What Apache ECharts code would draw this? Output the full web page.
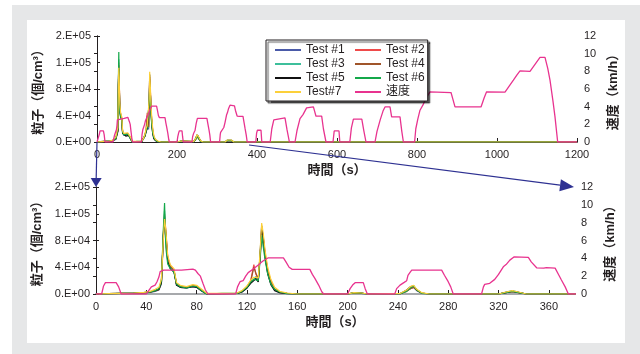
<!DOCTYPE html>
<html>
<head>
<meta charset="utf-8">
<script src="https://cdn.jsdelivr.net/npm/echarts@6/dist/echarts.min.js"></script>
<style>
body { margin: 0; background: #fff; }
#frame { position: absolute; left: 12px; top: 5px; width: 628px; height: 349px; background: #e6e7e8; }
#panel { position: absolute; left: 27px; top: 20px; width: 598px; height: 323px; background: #fff; }
#main { position: absolute; left: 0; top: 0; width: 640px; height: 354px; }
</style>
</head>
<body>
<div id="frame"></div>
<div id="panel"></div>
<div id="main"></div>
<script>
// time (s) shared by the particle series
var times = [0, 10, 20, 30, 38, 43, 47, 50, 52, 53.5,
	54.5, 55.5, 57, 59, 62, 64, 67, 72, 77, 80,
	84, 88, 100, 112, 116, 120, 123, 125.5, 127, 129,
	130.5, 131.7, 133, 134.5, 136.5, 139, 142, 146, 152, 160,
	200, 205, 211, 216, 242, 247, 250, 252.5, 255, 259,
	265, 320, 326, 331, 336, 342, 380, 542, 545, 548,
	897, 900, 903, 935, 938, 941, 965, 968, 971, 1100,
	1103, 1106, 1140, 1143, 1146, 1200];

// particle counts, x1000 個/cm3
var test1 = [0, 0.3, 0.8, 1, 1.5, 2.5, 4, 6, 15, 80,
	105, 85, 50, 40, 35, 14, 10, 9, 11, 10,
	5, 0, 0.5, 1, 3, 9, 17, 21, 25, 19,
	55, 92, 80, 55, 32, 16, 6, 2, 0.5, 0,
	0, 1.5, 1, 0, 0.5, 5, 8, 10, 5, 1,
	0, 0, 2.5, 4.5, 2, 0, 0, 0, 0, 0,
	0, 0, 0, 0, 0, 0, 0, 0, 0, 0,
	2.5, 0, 0, 0, 0, 0];
var test2 = [0, 0.5, 1, 1.2, 2, 3, 5, 7, 18, 90,
	120, 95, 55, 42, 36, 16, 12, 10, 13, 12,
	6, 0.5, 0.5, 1, 4, 11, 20, 44, 30, 23,
	58, 98, 85, 60, 36, 20, 8, 3, 1, 0,
	0, 2, 1.5, 0, 0.5, 4, 8, 10, 6, 1.5,
	0, 0, 2, 3.5, 2, 0, 0, 0, 0, 0,
	0, 0, 0, 0, 3, 0, 0, 0, 0, 0,
	0, 0, 0, 0, 0, 0];
var test3 = [0, 0.4, 0.9, 1.2, 1.8, 2.8, 4.5, 7, 16, 85,
	125, 88, 52, 41, 34, 15, 11, 9.5, 12, 11,
	5, 0, 0.5, 1, 3.5, 10, 18, 22, 26, 21,
	50, 86, 78, 56, 33, 17, 7, 2.5, 0.5, 0,
	0, 1.5, 1, 0, 0.5, 5, 10, 11, 6, 1,
	0, 0, 3, 5, 2.5, 0, 0, 0, 0, 0,
	0, 0, 0, 0, 0, 0, 0, 0, 0, 0,
	0, 0, 0, 0, 0, 0];
var test4 = [0, 0.3, 0.7, 1, 1.6, 2.6, 4.5, 6.5, 17, 88,
	116, 92, 54, 42, 35, 15, 11, 10, 12.5, 11.5,
	5.5, 0.3, 0.5, 1, 3.5, 10, 19, 40, 32, 22,
	56, 95, 84, 58, 35, 18, 7, 2.5, 1, 0,
	0, 1.8, 1.2, 0, 0.5, 4.5, 8.5, 10, 5.5, 1,
	0, 0, 2.5, 4, 2, 0, 0, 0, 0, 0,
	0, 2, 0, 0, 0, 0, 0, 0, 0, 0,
	0, 0, 0, 0, 0, 0];
var test5 = [0, 0.5, 1, 1.3, 2, 3, 5, 7, 17, 85,
	110, 90, 48, 38, 33, 13, 10, 9, 11, 10,
	4.5, 0, 0.5, 1, 3, 9, 16, 20, 23, 18,
	62, 102, 82, 56, 30, 14, 5, 2, 0.5, 0,
	0, 1.5, 1, 0, 0.5, 6, 11, 12, 6, 1.5,
	0, 0, 2, 4, 2.5, 0, 0, 0, 0, 0,
	0, 0, 0, 0, 0, 0, 0, 0, 0, 0,
	0, 0, 0, 0, 0, 0];
var test6 = [0, 0.5, 1, 1.5, 2, 3, 5, 8, 20, 95,
	136, 70, 45, 38, 33, 15, 11, 9, 12, 11,
	5, 0, 1, 1, 4, 10, 18, 22, 24, 20,
	60, 88, 70, 50, 30, 15, 7, 3, 0.5, 0,
	0, 2, 1.5, 0, 0.5, 4, 9, 12, 6, 1,
	0, 0, 2, 4, 2, 0, 0, 0, 3, 0,
	0, 0, 0, 0, 0, 0, 0, 0, 0, 0,
	0, 0, 0, 2.5, 0, 0];
var test7 = [0, 0.5, 1, 1.5, 2.5, 4, 7, 10, 22, 80,
	112, 96, 58, 44, 38, 17, 13, 11, 14, 13,
	7, 1, 1, 1.5, 5, 12, 21, 25, 27, 24,
	65, 106, 90, 64, 40, 22, 10, 4, 1.5, 0,
	0, 2, 1.5, 0, 1, 6, 11, 13, 7, 2,
	0, 0, 3, 5, 3, 0, 0, 0, 0, 0,
	0, 0, 0, 0, 0, 0, 0, 3, 0, 0,
	0, 0, 0, 0, 0, 0];

// speed [time s, km/h]
var speed = [[0, 0], [4.5, 0], [6, 0.9], [7.5, 1.27], [16, 1.27], [18, 0.8], [20, 0],
	[40, 0], [42, 0.4], [44, 0.8], [47, 1.0], [48.5, 1.38], [50, 1.9], [51, 2.5], [53.8, 2.68], [68, 2.68], [69, 2.8], [77, 2.8], [79, 2.68], [81, 2.3], [83, 2.0], [85, 1.2], [87, 0.45], [89, 0],
	[111, 0], [112.5, 0.8], [114.5, 1.38], [117, 1.5], [119, 2.0], [121, 2.4], [125, 2.8], [129, 3.24], [131, 3.5], [133, 3.73], [135, 3.9], [137, 4.06], [149, 4.06], [151, 3.6], [153.5, 3.0], [156, 2.76], [170, 2.76], [172, 2.2], [174, 1.75], [177, 1.0], [179.5, 0.25], [181, 0],
	[200, 0], [202, 0.6], [204, 1.0], [206, 1.27], [212.5, 1.27], [214, 0.6], [215.7, 0],
	[237.5, 0], [239, 0.6], [241.7, 1.0], [245, 1.3], [247, 1.49], [248, 2.1], [249.5, 2.4], [251, 2.68], [274.8, 2.68], [277, 2.1], [280, 1.38], [282, 0.8], [284, 0],
	[306.5, 0], [308, 0.8], [309, 1.08], [313, 1.2], [317, 1.64], [320, 2.2], [323.8, 3.05], [326, 3.3], [329, 3.8], [332.5, 4.17], [343.7, 4.1], [346, 3.6], [350.3, 2.94], [356, 2.9], [358, 2.95], [365, 2.9], [368, 2.1], [370, 1.57], [373, 0.8], [375.5, 0],
	[397, 0], [399, 1.0], [401, 1.33], [410, 1.33], [412, 0],
	[433, 0], [437, 1.5], [442, 2.5], [445, 2.72], [470, 2.72], [475, 1.4], [481, 0],
	[495, 0], [500, 1.3], [507.5, 2.65], [515, 3.1], [524, 3.86], [528, 3.97], [541, 3.97], [547.5, 2.92], [561.7, 2.92], [566, 1.5], [572.5, 0],
	[590, 0], [593, 1.25], [605, 1.25], [607, 0],
	[632, 0], [636, 1.6], [641, 2.58], [662, 2.58], [667, 1.3], [672.5, 0],
	[695, 0], [700, 1.2], [708, 2.5], [715, 3.5], [720, 3.97], [732.5, 3.97], [736.6, 2.84], [757.5, 2.84], [762, 1.2], [766, 0],
	[794, 0], [797, 1.5], [802, 2.6], [807.5, 3.6], [815, 4.2], [822, 4.9], [832.5, 5.68], [885, 5.6], [890, 4.8], [895, 3.97], [960, 3.97], [968, 5.0], [974, 5.68], [1020, 5.65], [1030, 6.3], [1041, 7.0], [1050, 7.6], [1057.5, 8.06], [1082.5, 8.0], [1095, 8.8], [1107.5, 9.58], [1120, 9.58], [1127, 8.3], [1132.5, 7.0], [1140, 4.6], [1145, 2.84], [1151.7, 0], [1200, 0]];

var testNames = ['Test #1', 'Test #2', 'Test #3', 'Test #4', 'Test #5', 'Test #6', 'Test#7'];
var speedName = '速度';
var leftTicks = ['0.E+00', '4.E+04', '8.E+04', '1.E+05', '2.E+05'];

var UNIT = 1000;
var FONT = '"Liberation Sans", Arial, "Noto Sans CJK JP", sans-serif';
var INK = '#231f20';
var ARROW = '#2e3192';
var testColors = ['#4a5aa8', '#ef4a4a', '#3dbf9b', '#a0552a', '#111111', '#14a84a', '#fcd03a'];
var speedColor = '#e8338f';
var tests = [test1, test2, test3, test4, test5, test6, test7];

var myChart = echarts.init(document.getElementById('main'));

function pairs(vals) {
	return times.map(function(t, i) { return [t, vals[i] * UNIT]; });
}

function xAxis(grid, max, interval) {
	return {
		type: 'value', gridIndex: grid, min: 0, max: max, interval: interval,
		name: '時間（s）', nameLocation: 'middle', nameGap: 22,
		nameTextStyle: { fontFamily: FONT, fontSize: 13, fontWeight: 'bold', color: INK },
		axisLine: { lineStyle: { color: INK, width: 1 } },
		axisTick: { inside: true, length: 4, lineStyle: { color: INK } },
		axisLabel: {
			margin: 7, fontFamily: FONT, fontSize: 11, color: INK, showMaxLabel: grid == 0,
			formatter: function(v) { return String(v); }
		},
		splitLine: { show: false }
	};
}

function topLine(grid, max, color, width) {
	return {
		type: 'value', gridIndex: grid, position: 'top', min: 0, max: max,
		axisLine: { show: true, lineStyle: { color: color, width: width } },
		axisTick: { show: false }, axisLabel: { show: false }, splitLine: { show: false }
	};
}

function leftAxis(grid) {
	return {
		type: 'value', gridIndex: grid, position: 'left', min: 0, max: 160000, interval: 40000,
		name: '粒子（個/cm³）', nameLocation: 'middle', nameGap: 50, nameRotate: 90,
		nameTextStyle: { fontFamily: FONT, fontSize: 13, fontWeight: 'bold', color: INK },
		axisLine: { show: true, lineStyle: { color: INK } },
		axisTick: { show: true, inside: true, length: 3, lineStyle: { color: INK } },
		axisLabel: {
			margin: 6, fontFamily: FONT, fontSize: 11, color: INK,
			formatter: function(v) { return leftTicks[Math.round(v / 40000)]; }
		},
		splitLine: { show: false }
	};
}

function rightAxis(grid) {
	return {
		type: 'value', gridIndex: grid, position: 'right', min: 0, max: 12, interval: 2,
		name: '速度（km/h）', nameLocation: 'middle', nameGap: 28, nameRotate: 90,
		nameTextStyle: { fontFamily: FONT, fontSize: 13, fontWeight: 'bold', color: INK },
		axisLine: { show: true, lineStyle: { color: INK } },
		axisTick: { show: true, inside: true, length: 3, lineStyle: { color: INK } },
		axisLabel: { margin: 7, fontFamily: FONT, fontSize: 11, color: INK },
		splitLine: { show: false }
	};
}

var series = [];
[0, 1].forEach(function(g) {
	tests.forEach(function(vals, i) {
		series.push({
			name: testNames[i], type: 'line', xAxisIndex: g, yAxisIndex: g * 2,
			data: pairs(vals), symbol: 'none', z: 2,
			lineStyle: { color: testColors[i], width: 1.2 },
			itemStyle: { color: testColors[i] }
		});
	});
	series.push({
		name: speedName, type: 'line', xAxisIndex: g, yAxisIndex: g * 2 + 1,
		data: speed, symbol: 'none', z: 3,
		lineStyle: { color: speedColor, width: 1.3 },
		itemStyle: { color: speedColor }
	});
});

var leftCol = ['Test #1', 'Test #3', 'Test #5', 'Test#7'];

var option = {
	animation: false,
	backgroundColor: 'transparent',
	grid: [
		{ left: 97, top: 36, width: 480, height: 106, outerBoundsMode: 'none' },
		{ left: 96, top: 187, width: 478, height: 107, outerBoundsMode: 'none' }
	],
	legend: {
		left: 266, top: 40, width: 162,
		padding: [4, 3, 3, 9], itemWidth: 26, itemHeight: 2, itemGap: 2,
		icon: 'rect',
		backgroundColor: '#fff', borderColor: INK, borderWidth: 1,
		shadowColor: 'rgba(0,0,0,0.65)', shadowBlur: 1, shadowOffsetX: 2, shadowOffsetY: 2,
		textStyle: {
			fontFamily: FONT, fontSize: 12, lineHeight: 12, color: INK,
			rich: { c: { width: 47, fontFamily: FONT, fontSize: 12, lineHeight: 12, color: INK } }
		},
		formatter: function(name) {
			return leftCol.indexOf(name) >= 0 ? '{c|' + name + '}' : name;
		},
		data: testNames.concat([speedName])
	},
	xAxis: [
		xAxis(0, 1200, 200),
		xAxis(1, 380, 40),
		topLine(0, 1200, INK, 1),
		topLine(1, 380, '#a7a9ac', 2)
	],
	yAxis: [leftAxis(0), rightAxis(0), leftAxis(1), rightAxis(1)],
	series: series
};

myChart.setOption(option);

// 拡大範囲を示す矢印
function arrow(a, b, len, half) {
	var dx = b[0] - a[0], dy = b[1] - a[1];
	var d = Math.sqrt(dx * dx + dy * dy), ux = dx / d, uy = dy / d;
	var bx = b[0] - ux * len, by = b[1] - uy * len;
	return [
		{ type: 'line', z: 100, shape: { x1: a[0], y1: a[1], x2: bx, y2: by }, style: { stroke: ARROW, lineWidth: 1.2 } },
		{ type: 'polygon', z: 100, shape: { points: [[b[0], b[1]], [bx - uy * half, by + ux * half], [bx + uy * half, by - ux * half]] }, style: { fill: ARROW } }
	];
}

var p0 = myChart.convertToPixel({ xAxisIndex: 0, yAxisIndex: 0 }, [0, 0]);
var p1 = myChart.convertToPixel({ xAxisIndex: 1, yAxisIndex: 2 }, [0, 160000]);
var p2 = myChart.convertToPixel({ xAxisIndex: 0, yAxisIndex: 0 }, [380, 0]);
var p3 = myChart.convertToPixel({ xAxisIndex: 1, yAxisIndex: 2 }, [380, 160000]);

myChart.setOption({
	graphic: arrow(p0, p1, 9, 5.5).concat(arrow([p2[0], p2[1] + 3], p3, 14, 6))
});
</script>
</body>
</html>
